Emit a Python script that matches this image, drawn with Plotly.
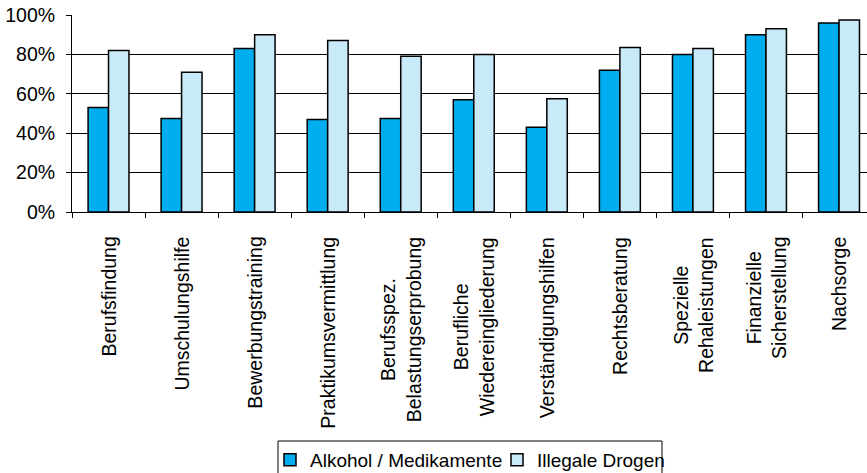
import plotly.graph_objects as go

categories = [
    "Berufsfindung", "Umschulungshilfe", "Bewerbungstraining",
    "Praktikumsvermittlung", "Berufsspez.<br>Belastungserprobung",
    "Berufliche<br>Wiedereingliederung", "Verständigungshilfen",
    "Rechtsberatung", "Spezielle<br>Rehaleistungen",
    "Finanzielle<br>Sicherstellung", "Nachsorge",
]
alkohol = [53, 47.5, 83, 47, 47.5, 57, 43, 72, 80, 90, 96]
drogen = [82, 71, 90, 87, 79, 80, 57.5, 83.5, 83, 93, 97.5]
y_ticks = [0, 20, 40, 60, 80, 100]
y_tick_labels = ["0%", "20%", "40%", "60%", "80%", "100%"]

FONT = "Liberation Sans, Arial, sans-serif"
FS = 19.5
W, H = 867, 473
PLOT_LEFT, PLOT_TOP, PLOT_BOTTOM = 72, 15, 212
PLOT_W = W - PLOT_LEFT
PLOT_H = PLOT_BOTTOM - PLOT_TOP


def px_x(p):
    return (p - PLOT_LEFT) / PLOT_W


def px_y(p):
    return (PLOT_BOTTOM - p) / PLOT_H


fig = go.Figure()
fig.add_trace(go.Bar(
    x=categories, y=alkohol, name="Alkohol / Medikamente", legend="legend",
    marker=dict(color="#00AEEF", line=dict(color="black", width=1.5)),
))
fig.add_trace(go.Bar(
    x=categories, y=drogen, name="Illegale Drogen", legend="legend2",
    marker=dict(color="#C8EAF9", line=dict(color="black", width=1.5)),
))

# category labels: rotated, lines centred, top aligned just below the axis
for c in categories:
    fig.add_annotation(
        x=c, xref="x", y=px_y(235), yref="paper",
        text=c, textangle=-90, showarrow=False,
        xanchor="center", yanchor="top", align="center",
        font=dict(family=FONT, size=FS, color="black"),
    )

# legend frame
fig.add_shape(
    type="rect", xref="paper", yref="paper",
    x0=px_x(278), x1=px_x(662), y0=px_y(441), y1=px_y(480),
    line=dict(color="black", width=1), fillcolor="rgba(0,0,0,0)",
    layer="above",
)

leg_common = dict(
    orientation="h", xref="container", yref="container",
    xanchor="left", yanchor="top", y=1 - 441 / H,
    borderwidth=0, bgcolor="rgba(0,0,0,0)",
    font=dict(family=FONT, size=19, color="black"),
    itemwidth=30,
)

fig.update_layout(
    width=W, height=H,
    margin=dict(l=PLOT_LEFT, r=0, t=PLOT_TOP, b=H - PLOT_BOTTOM, pad=0),
    paper_bgcolor="white", plot_bgcolor="white",
    font=dict(family=FONT, size=FS, color="black"),
    barmode="group", bargap=0.44, bargroupgap=0,
    showlegend=True,
    legend=dict(x=270 / W, **leg_common),
    legend2=dict(x=497 / W, **leg_common),
    xaxis=dict(
        type="category", categoryorder="array", categoryarray=categories,
        range=[-0.5, -0.5 + 795 / 73.05],
        showticklabels=False, tickson="boundaries",
        showline=True, linecolor="black", linewidth=1,
        ticks="outside", ticklen=5, tickcolor="black", tickwidth=1,
        showgrid=False, zeroline=False,
    ),
    yaxis=dict(
        range=[0, 100], tickvals=y_ticks, ticktext=y_tick_labels,
        showline=True, linecolor="black", linewidth=1,
        ticks="outside", ticklen=5, tickcolor="black", tickwidth=1,
        showgrid=True, gridcolor="black", gridwidth=1,
        zeroline=False, ticklabelstandoff=7,
        tickfont=dict(family=FONT, size=FS, color="black"),
    ),
)

fig.write_html("out.html")
